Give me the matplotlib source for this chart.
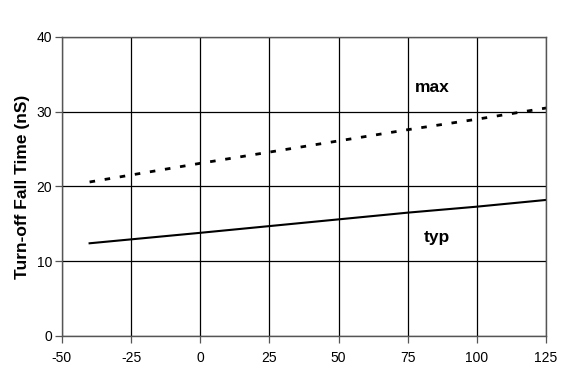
import matplotlib
matplotlib.use("Agg")
import matplotlib.pyplot as plt

plt.rcParams['font.family'] = ['Liberation Sans', 'DejaVu Sans']
plt.rcParams['axes.unicode_minus'] = False

temp = [-40, 0, 25, 50, 75, 100, 125]
t_max = [20.6, 23.1, 24.6, 26.1, 27.6, 29.0, 30.5]
t_typ = [12.4, 13.8, 14.7, 15.6, 16.5, 17.3, 18.2]
xticks = [-50, -25, 0, 25, 50, 75, 100, 125]
yticks = [0, 10, 20, 30, 40]

fig = plt.figure(figsize=(5.63, 3.70), dpi=100)
ax = fig.add_axes([0.110, 0.092, 0.860, 0.808])

ax.plot(temp, t_max, color='black', lw=2, linestyle=(0, (2, 3.5)))
ax.plot(temp, t_typ, color='black', lw=1.5)

ax.set_xlim(-50, 125)
ax.set_ylim(0, 40)
ax.set_xticks(xticks)
ax.set_yticks(yticks)
ax.grid(True, color='black', lw=0.9)
ax.tick_params(labelsize=10, length=5, width=0.9, color='#555555', pad=2)
ax.tick_params(axis='x', pad=6)
for s in ax.spines.values():
    s.set_color('#555555')
    s.set_linewidth(1)

ax.set_ylabel('Turn-off Fall Time (nS)', fontsize=12.5, fontweight='bold', labelpad=5)
ax.text(84, 33.2, 'max', fontsize=12.5, fontweight='bold', ha='center', va='center')
ax.text(85.5, 13.2, 'typ', fontsize=12.5, fontweight='bold', ha='center', va='center')

fig.savefig('out.png', dpi=100)
